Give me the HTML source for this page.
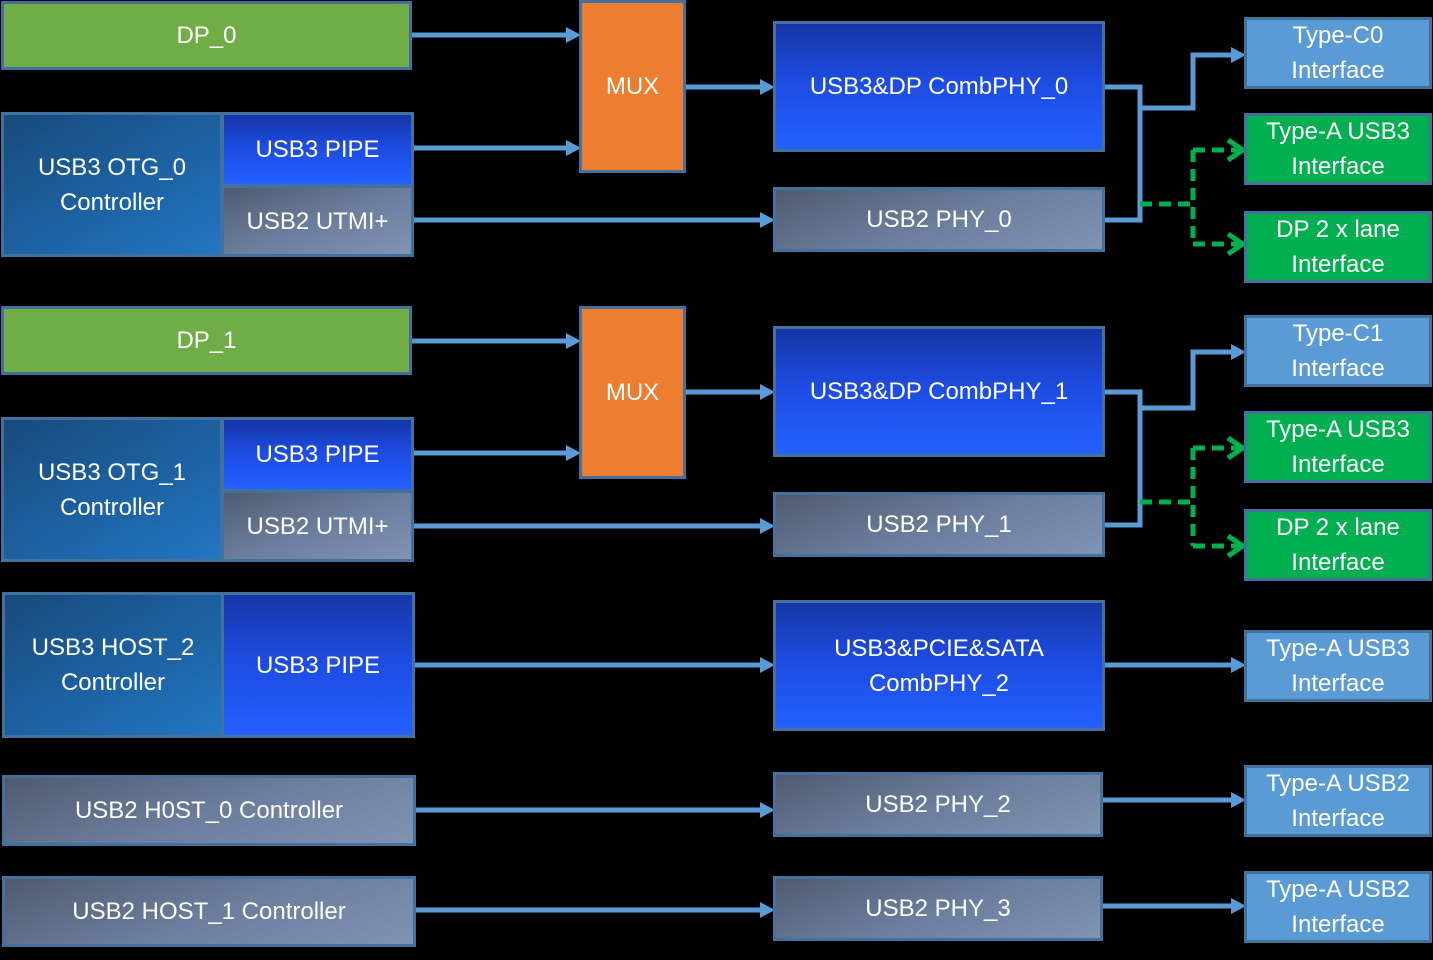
<!DOCTYPE html>
<html><head><meta charset="utf-8"><style>
body{margin:0;width:1433px;height:960px;background:#000;position:relative;overflow:hidden;font-family:"Liberation Sans","DejaVu Sans",sans-serif;}
.b{position:absolute;box-sizing:border-box;border:3px solid #41719c;color:#fff;display:flex;align-items:center;justify-content:center;text-align:center;font-size:24px;line-height:35px;}
.g{background:#70ad47}
.o{background:#ed7d31}
.bl{background:linear-gradient(180deg,#1536a6 0%,#1d4be0 45%,#2360ff 100%)}
.gr{background:linear-gradient(160deg,#4f5a70 0%,#6b7d9c 50%,#8193b3 100%)}
.ct{background:linear-gradient(150deg,#174a7c 0%,#1d64a6 60%,#2276c2 100%)}
.lb{background:#5b9bd5}
.gg{background:#00b050}
svg{position:absolute;left:0;top:0}
</style></head><body>
<svg width="1433" height="960">
<g stroke="#5b9bd5" stroke-width="5" fill="none">
<path d="M411 35H570"/>
<path d="M413 148H570"/>
<path d="M413 220H764"/>
<path d="M685 87H764"/>
<path d="M1104 87H1140V220H1104"/>
<path d="M1140 108H1193V55H1235"/>
<path d="M1140 204H1193M1193 150V244M1193 150H1240M1193 244H1240" stroke="#00b050" stroke-dasharray="12,7"/>
<path d="M411 341H570"/>
<path d="M413 453H570"/>
<path d="M413 526H764"/>
<path d="M685 392H764"/>
<path d="M1104 392H1140V525H1104"/>
<path d="M1140 408H1193V352H1235"/>
<path d="M1140 502H1193M1193 448V546M1193 448H1240M1193 546H1240" stroke="#00b050" stroke-dasharray="12,7"/>
<path d="M414 665H764"/>
<path d="M1104 665H1235"/>
<path d="M415 810H764"/>
<path d="M1102 800H1235"/>
<path d="M415 910H764"/>
<path d="M1102 906H1235"/>
</g>
<g fill="#5b9bd5">
<path d="M566 27L581 35L566 43z"/>
<path d="M566 140L581 148L566 156z"/>
<path d="M760 212L775 220L760 228z"/>
<path d="M760 79L775 87L760 95z"/>
<path d="M1231 47L1246 55L1231 63z"/>
<path d="M566 333L581 341L566 349z"/>
<path d="M566 445L581 453L566 461z"/>
<path d="M760 518L775 526L760 534z"/>
<path d="M760 384L775 392L760 400z"/>
<path d="M1231 344L1246 352L1231 360z"/>
<path d="M760 657L775 665L760 673z"/>
<path d="M1231 657L1246 665L1231 673z"/>
<path d="M760 802L775 810L760 818z"/>
<path d="M1231 792L1246 800L1231 808z"/>
<path d="M760 902L775 910L760 918z"/>
<path d="M1231 898L1246 906L1231 914z"/>
</g>
<g fill="none" stroke="#00b050" stroke-width="5">
<path d="M1228 140L1243 150L1228 160"/><path d="M1228 234L1243 244L1228 254"/>
<path d="M1228 438L1243 448L1228 458"/><path d="M1228 536L1243 546L1228 556"/>
</g>
</svg>
<div class="b g" style="left:1px;top:1px;width:411px;height:69px">DP_0</div>
<div class="b ct" style="left:1px;top:112px;width:222px;height:145px">USB3 OTG_0<br>Controller</div>
<div class="b bl" style="left:221px;top:112px;width:193px;height:75px">USB3 PIPE</div>
<div class="b gr" style="left:221px;top:185px;width:193px;height:72px">USB2 UTMI+</div>
<div class="b o" style="left:579px;top:0px;width:107px;height:173px">MUX</div>
<div class="b bl" style="left:773px;top:21px;width:332px;height:131px">USB3&amp;DP CombPHY_0</div>
<div class="b gr" style="left:773px;top:187px;width:332px;height:65px">USB2 PHY_0</div>
<div class="b lb" style="left:1244px;top:17px;width:188px;height:72px">Type-C0<br>Interface</div>
<div class="b gg" style="left:1244px;top:113px;width:188px;height:72px">Type-A USB3<br>Interface</div>
<div class="b gg" style="left:1244px;top:211px;width:188px;height:72px">DP 2 x lane<br>Interface</div>

<div class="b g" style="left:1px;top:306px;width:411px;height:69px">DP_1</div>
<div class="b ct" style="left:1px;top:417px;width:222px;height:145px">USB3 OTG_1<br>Controller</div>
<div class="b bl" style="left:221px;top:417px;width:193px;height:75px">USB3 PIPE</div>
<div class="b gr" style="left:221px;top:490px;width:193px;height:72px">USB2 UTMI+</div>
<div class="b o" style="left:579px;top:306px;width:107px;height:173px">MUX</div>
<div class="b bl" style="left:773px;top:326px;width:332px;height:131px">USB3&amp;DP CombPHY_1</div>
<div class="b gr" style="left:773px;top:492px;width:332px;height:65px">USB2 PHY_1</div>
<div class="b lb" style="left:1244px;top:315px;width:188px;height:72px">Type-C1<br>Interface</div>
<div class="b gg" style="left:1244px;top:411px;width:188px;height:72px">Type-A USB3<br>Interface</div>
<div class="b gg" style="left:1244px;top:509px;width:188px;height:72px">DP 2 x lane<br>Interface</div>

<div class="b ct" style="left:2px;top:592px;width:222px;height:146px">USB3 HOST_2<br>Controller</div>
<div class="b bl" style="left:221px;top:592px;width:194px;height:146px">USB3 PIPE</div>
<div class="b bl" style="left:773px;top:600px;width:332px;height:131px">USB3&amp;PCIE&amp;SATA<br>CombPHY_2</div>
<div class="b lb" style="left:1244px;top:630px;width:188px;height:72px">Type-A USB3<br>Interface</div>

<div class="b gr" style="left:2px;top:775px;width:414px;height:71px">USB2 H0ST_0 Controller</div>
<div class="b gr" style="left:773px;top:772px;width:330px;height:65px">USB2 PHY_2</div>
<div class="b lb" style="left:1244px;top:765px;width:188px;height:72px">Type-A USB2<br>Interface</div>

<div class="b gr" style="left:2px;top:876px;width:414px;height:71px">USB2 HOST_1 Controller</div>
<div class="b gr" style="left:773px;top:876px;width:330px;height:65px">USB2 PHY_3</div>
<div class="b lb" style="left:1244px;top:871px;width:188px;height:72px">Type-A USB2<br>Interface</div>
</body></html>
